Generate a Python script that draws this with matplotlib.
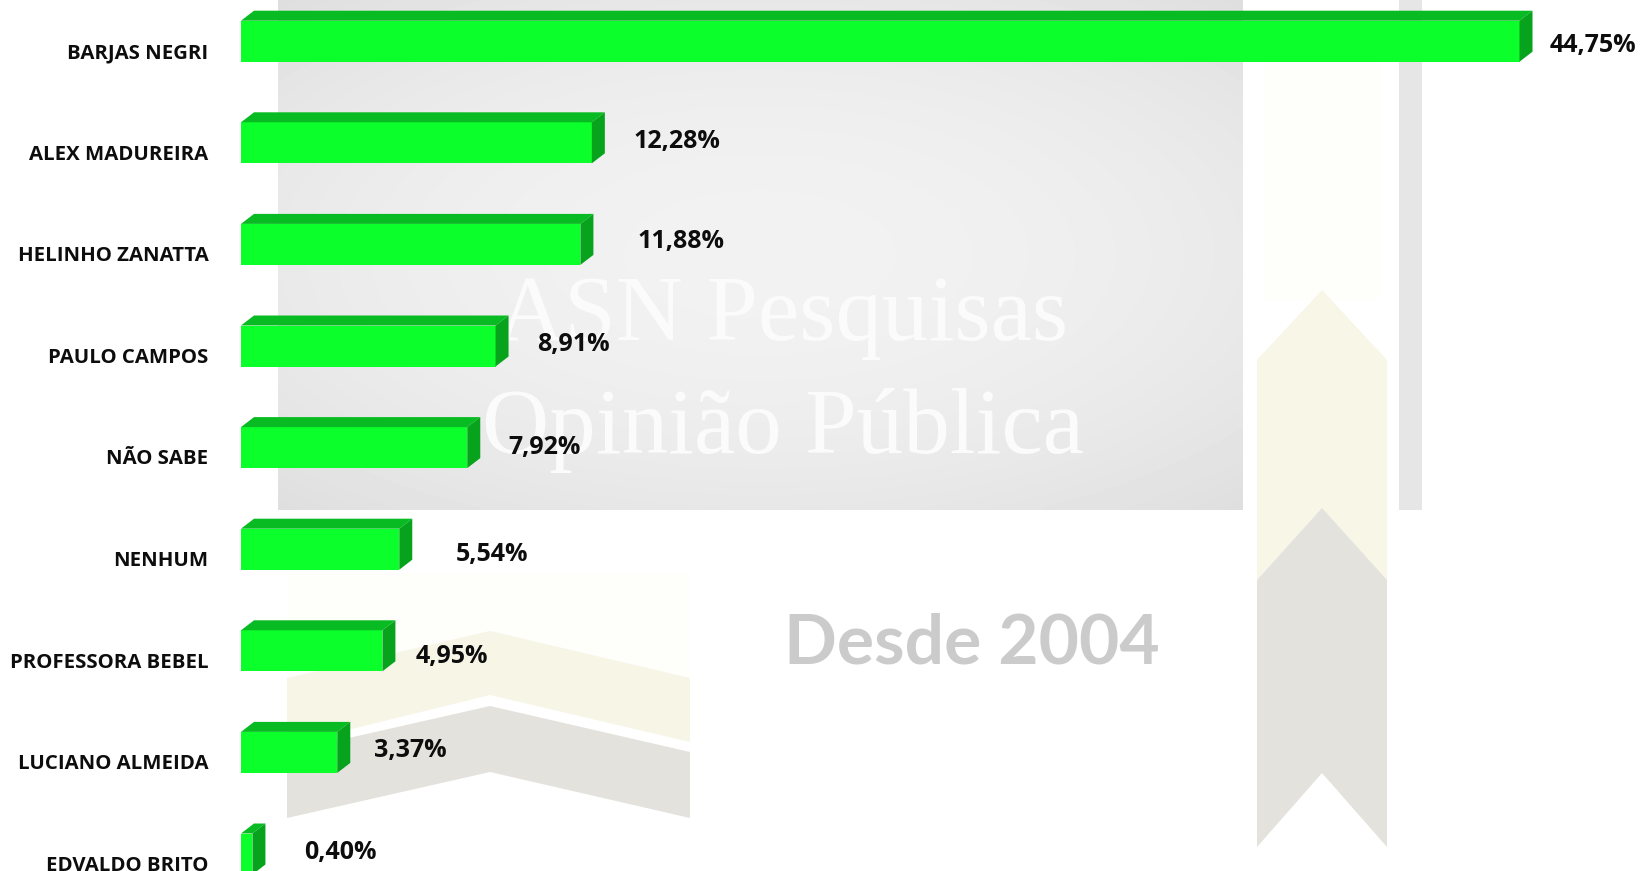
# Poll results chart with 3D-looking green bars over the ASN watermark

import numpy as np
import matplotlib

matplotlib.use("Agg")
from matplotlib import pyplot as plt
from matplotlib.patches import Polygon, Rectangle
from matplotlib.transforms import offset_copy

# Data
candidates = [
    "BARJAS NEGRI",
    "ALEX MADUREIRA",
    "HELINHO ZANATTA",
    "PAULO CAMPOS",
    "NÃO SABE",
    "NENHUM",
    "PROFESSORA BEBEL",
    "LUCIANO ALMEIDA",
    "EDVALDO BRITO",
]
percent = [44.75, 12.28, 11.88, 8.91, 7.92, 5.54, 4.95, 3.37, 0.40]
value_labels = [f"{v:.2f}%".replace(".", ",") for v in percent]

# Value label nudges (pixels) as placed in the original chart
label_gap = [17, 29, 44, 29, 28, 43, 20, 24, 39]
label_base = [11, 5, 4, 5, 6, 12, 12, 5, 5]

# Colours
front_c = "#0bff2b"
top_c = "#09bb22"
side_c = "#07a31c"

# Figure geometry (pixels)
W, H = 1641, 871
x0 = 241  # bar origin
px_per_pct = 28.57
pitch = 101.6
first_c = 41.2

fig = plt.figure(figsize=(W / 100, H / 100), dpi=100)
fig.patch.set_facecolor("white")

# Background watermark layer, in pixel units
bg = fig.add_axes([0, 0, 1, 1], zorder=0)
bg.set_xlim(0, W)
bg.set_ylim(H, 0)
bg.axis("off")

# Grey gradient panel
gx, gy = np.meshgrid(np.linspace(-1, 1, 200), np.linspace(-1, 1, 120))
grad = 0.948 - 0.042 * (0.8 * gx**2 + gy**2)
bg.imshow(
    grad,
    cmap="gray",
    vmin=0,
    vmax=1,
    extent=(278, 1243, 510, 0),
    aspect="auto",
    interpolation="bilinear",
    zorder=0,
)
bg.add_patch(Rectangle((1399, 0), 23, 510, color="#e6e6e6", lw=0, zorder=0))

# Ribbon on the right
bg.add_patch(Rectangle((1265, 60), 115, 240, color="#fefefb", lw=0, zorder=0))
bg.add_patch(
    Polygon(
        [(1257, 360), (1322, 290), (1387, 360), (1387, 580), (1322, 508), (1257, 580)],
        color="#f8f6e7",
        lw=0,
        zorder=1,
    )
)
bg.add_patch(
    Polygon(
        [(1257, 580), (1322, 508), (1387, 580), (1387, 847), (1322, 773), (1257, 847)],
        color="#e3e2dc",
        lw=0,
        zorder=1,
    )
)

# Chevrons bottom left
bg.add_patch(Rectangle((287, 573), 403, 107, color="#fefefb", lw=0, zorder=0))
bg.add_patch(
    Polygon(
        [(287, 678), (490, 631), (690, 678), (690, 742), (490, 695), (287, 745)],
        color="#f7f5e6",
        lw=0,
        zorder=1,
    )
)
bg.add_patch(
    Polygon(
        [(287, 752), (490, 706), (690, 752), (690, 818), (490, 772), (287, 818)],
        color="#e3e2dc",
        lw=0,
        zorder=1,
    )
)

# Watermark text
bg.text(783, 340, "ASN Pesquisas", family="Liberation Serif", fontsize=67,
        color="#fbfbfb", ha="center", va="baseline", zorder=2)
bg.text(783, 453, "Opinião Pública", family="Liberation Serif", fontsize=67,
        color="#fbfbfb", ha="center", va="baseline", zorder=2)
bg.text(784, 663, "Desde 2004", family="Lato", fontweight="bold", fontsize=50,
        color="#cbcbcb", ha="left", va="baseline", zorder=2)

# Bar axes: x in percent, y in category index
ax = fig.add_axes([x0 / W, 0, (W - x0) / W, 1], zorder=1)
ax.patch.set_visible(False)
ax.set_xlim(0, (W - x0) / px_per_pct)
ax.set_ylim((H - first_c) / pitch, -first_c / pitch)
ax.axis("off")

ypos = np.arange(len(candidates))
h = 41 / pitch
dx = 13 / px_per_pct
dy = 10 / pitch

# Front faces
ax.barh(ypos, percent, height=h, color=front_c, lw=0, zorder=3)

# Top and side faces for the 3D look
for y, v in zip(ypos, percent):
    top = y - h / 2
    bot = y + h / 2
    ax.add_patch(
        Polygon(
            [(0, top), (dx, top - dy), (v + dx, top - dy), (v, top)],
            color=top_c,
            lw=0,
            zorder=3,
        )
    )
    ax.add_patch(
        Polygon(
            [(v, top), (v + dx, top - dy), (v + dx, bot - dy), (v, bot)],
            color=side_c,
            lw=0,
            zorder=3,
        )
    )

# Category labels
for y, name in zip(ypos, candidates):
    tr = offset_copy(ax.transData, fig, x=-32.7, y=-16.8, units="dots")
    ax.text(0, y, name, transform=tr, ha="right", va="baseline",
            family="Open Sans", fontweight="bold", fontsize=14.7, color="#0d0d0d")

# Value labels
for y, v, lab, g, b in zip(ypos, percent, value_labels, label_gap, label_base):
    tr = offset_copy(ax.transData, fig, x=g, y=-b, units="dots")
    ax.text(v + dx, y, lab, transform=tr, ha="left", va="baseline",
            family="Open Sans", fontweight="bold", fontsize=18, color="#0d0d0d")

# Save plot
fig.savefig("out.png", dpi=100)
